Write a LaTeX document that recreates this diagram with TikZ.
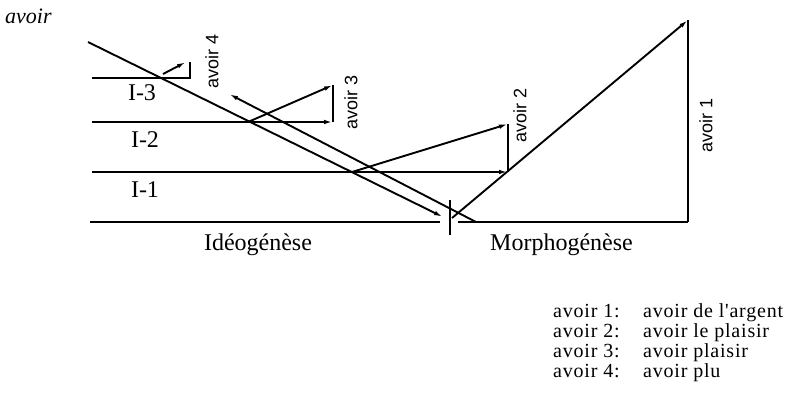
\documentclass[tikz,border=0pt]{standalone}
\usepackage{fontspec}
\setmainfont{Liberation Serif}
\newfontfamily\lsans{Liberation Sans}
\newfontfamily\legfont[LetterSpace=4,Ligatures=TeXOff]{Liberation Serif}
\usetikzlibrary{arrows.meta}
\begin{document}
\begin{tikzpicture}[x=1pt,y=-1pt,
  ln/.style={line width=1.9pt},
  arr/.style={ln,-{Latex[length=9pt,width=4.5pt]}},
  lab/.style={font=\fontsize{24}{24}\selectfont, inner sep=0pt},
  vlab/.style={font=\lsans\fontsize{18}{18}\selectfont, rotate=90, inner sep=0pt},
  leg/.style={font=\legfont\fontsize{20}{20}\selectfont, inner sep=0pt, anchor=base west}]
\useasboundingbox (0,0) rectangle (797,408);
% coordinates
\coordinate (b0) at (90,222);
\coordinate (b1) at (440,222);
\coordinate (b2) at (458,222);
\coordinate (b3) at (688,222);
\coordinate (t0) at (450,200);
\coordinate (t1) at (450,235);
\coordinate (l3a) at (92,78);
\coordinate (l3b) at (190,78);
\coordinate (v4) at (190,62);
\coordinate (a4s) at (163,74);
\coordinate (a4e) at (186,62);
\coordinate (l2a) at (92,122);
\coordinate (l2b) at (333,122);
\coordinate (v3) at (333,85);
\coordinate (a3s) at (248,122);
\coordinate (l1a) at (92,172);
\coordinate (l1b) at (508,172);
\coordinate (v2) at (508,124);
\coordinate (a2s) at (352,172);
\coordinate (Aa) at (88,42);
\coordinate (Ab) at (443,217);
\coordinate (Ba) at (476,222);
\coordinate (Bb) at (229,94);
\coordinate (Ma) at (452,218);
\coordinate (Mb) at (688,20);
% lines
\draw[ln] (b0) -- (b1);
\draw[ln] (b2) -- (b3);
\draw[ln] (t0) -- (t1);
\draw[ln] (l3a) -- (l3b) -- (v4);
\draw[arr] (a4s) -- (a4e);
\draw[arr] (l2a) -- (l2b);
\draw[ln] (l2b) -- (v3);
\draw[arr] (a3s) -- (v3);
\draw[arr] (l1a) -- (l1b);
\draw[ln] (l1b) -- (v2);
\draw[arr] (a2s) -- (v2);
\draw[arr] (Aa) -- (Ab);
\draw[arr] (Ba) -- (Bb);
\draw[arr] (Ma) -- (Mb);
\draw[ln] (Mb) -- (b3);
% labels
\node[font=\itshape\fontsize{22}{22}\selectfont, anchor=base west, inner sep=0pt] (tit) at (5,23) {avoir};
\node[lab, anchor=base] (i3) at (142,100) {I-3};
\node[lab, anchor=base] (i2) at (145,147) {I-2};
\node[lab, anchor=base] (i1) at (145,197) {I-1};
\node[vlab] (av4) at (212,61) {avoir 4};
\node[vlab] (av3) at (351,102) {avoir 3};
\node[vlab] (av2) at (520,115) {avoir 2};
\node[vlab] (av1) at (706,125) {avoir 1};
\node[lab, anchor=base] (ideo) at (258,250) {Idéogénèse};
\node[lab, anchor=base west] (morph) at (490,250) {Morphogénèse};
% legend
\node[leg] (k1) at (553,317) {avoir 1:};
\node[leg] (k2) at (553,337) {avoir 2:};
\node[leg] (k3) at (553,357) {avoir 3:};
\node[leg] (k4) at (553,377) {avoir 4:};
\node[leg] (d1) at (643,317) {avoir de l'argent};
\node[leg] (d2) at (643,337) {avoir le plaisir};
\node[leg] (d3) at (643,357) {avoir plaisir};
\node[leg] (d4) at (643,377) {avoir plu};
\end{tikzpicture}
\end{document}
